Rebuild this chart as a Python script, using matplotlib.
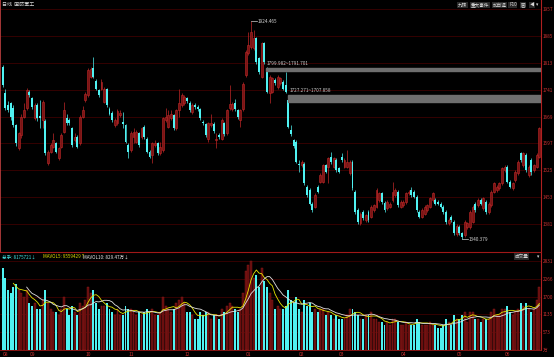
import numpy as np
import pandas as pd
import matplotlib.pyplot as plt
from matplotlib.patches import Rectangle

plt.rcParams['font.family'] = ['Noto Sans CJK SC', 'DejaVu Sans']

# daily candles (index points)
opens = [1802, 1731, 1701, 1704, 1693, 1646, 1584, 1619, 1668, 1691,
         1734, 1718, 1664, 1700, 1670, 1660, 1657, 1544, 1575, 1588,
         1597, 1557, 1588, 1628, 1664, 1661, 1637, 1606, 1615, 1597,
         1668, 1713, 1727, 1776, 1800, 1765, 1740, 1744, 1709, 1742,
         1688, 1679, 1646, 1651, 1673, 1653, 1646, 1593, 1579, 1615,
         1602, 1624, 1615, 1642, 1610, 1575, 1566, 1593, 1597, 1570,
         1579, 1660, 1642, 1664, 1673, 1637, 1686, 1700, 1704, 1718,
         1706, 1682, 1700, 1695, 1688, 1655, 1648, 1610, 1646, 1649,
         1606, 1619, 1610, 1651, 1624, 1691, 1689, 1704, 1686, 1660,
         1688, 1780, 1838, 1856, 1852, 1878, 1825, 1776, 1865, 1798,
         1731, 1735, 1767, 1749, 1758, 1762, 1753, 1713, 1633, 1606,
         1601, 1543, 1539, 1543, 1481, 1472, 1436, 1427, 1481, 1494,
         1494, 1539, 1535, 1561, 1535, 1552, 1530, 1561, 1535, 1535,
         1517, 1548, 1468, 1418, 1383, 1414, 1392, 1414, 1400, 1418,
         1427, 1445, 1463, 1438, 1423, 1427, 1445, 1459, 1467, 1427,
         1432, 1441, 1463, 1472, 1468, 1454, 1414, 1401, 1409, 1418,
         1427, 1445, 1445, 1441, 1436, 1427, 1414, 1383, 1401, 1387,
         1354, 1374, 1356, 1352, 1374, 1374, 1387, 1436, 1432, 1445,
         1423, 1441, 1414, 1432, 1468, 1472, 1477, 1490, 1526, 1535,
         1494, 1477, 1499, 1517, 1570, 1539, 1566, 1512, 1552, 1526,
         1535, 1561]
closes = [1753, 1691, 1686, 1668, 1646, 1597, 1624, 1667, 1686, 1740,
          1727, 1695, 1701, 1664, 1664, 1709, 1570, 1575, 1593, 1605,
          1575, 1584, 1620, 1686, 1651, 1651, 1593, 1615, 1588, 1668,
          1686, 1729, 1793, 1797, 1776, 1744, 1727, 1762, 1744, 1700,
          1677, 1660, 1660, 1684, 1679, 1649, 1602, 1575, 1624, 1628,
          1628, 1593, 1637, 1615, 1575, 1561, 1597, 1599, 1570, 1588,
          1664, 1668, 1673, 1677, 1637, 1686, 1704, 1727, 1722, 1711,
          1686, 1700, 1695, 1689, 1664, 1651, 1619, 1651, 1652, 1631,
          1610, 1615, 1660, 1622, 1686, 1702, 1702, 1688, 1667, 1686,
          1756, 1843, 1860, 1896, 1878, 1816, 1789, 1865, 1816, 1735,
          1776, 1771, 1758, 1776, 1771, 1744, 1735, 1642, 1622, 1590,
          1548, 1539, 1548, 1490, 1459, 1436, 1418, 1459, 1468, 1512,
          1539, 1521, 1557, 1548, 1557, 1526, 1521, 1552, 1552, 1548,
          1548, 1477, 1414, 1387, 1408, 1396, 1405, 1392, 1427, 1432,
          1472, 1463, 1441, 1418, 1441, 1436, 1468, 1472, 1432, 1441,
          1441, 1463, 1468, 1459, 1454, 1418, 1401, 1418, 1427, 1432,
          1450, 1463, 1436, 1436, 1427, 1414, 1387, 1393, 1392, 1356,
          1376, 1356, 1347, 1387, 1383, 1414, 1427, 1418, 1445, 1436,
          1450, 1414, 1436, 1468, 1490, 1481, 1490, 1530, 1535, 1494,
          1481, 1490, 1521, 1548, 1552, 1570, 1526, 1535, 1521, 1539,
          1566, 1637]
highs = [1807, 1744, 1710, 1708, 1700, 1650, 1628, 1676, 1704, 1745,
         1740, 1722, 1706, 1704, 1713, 1713, 1662, 1580, 1597, 1626,
         1602, 1588, 1624, 1707, 1677, 1666, 1642, 1624, 1620, 1672,
         1697, 1734, 1798, 1802, 1829, 1769, 1744, 1769, 1749, 1746,
         1695, 1684, 1664, 1690, 1686, 1682, 1650, 1597, 1630, 1637,
         1633, 1628, 1642, 1646, 1615, 1579, 1602, 1606, 1602, 1602,
         1668, 1693, 1686, 1686, 1677, 1690, 1744, 1731, 1727, 1722,
         1710, 1704, 1706, 1700, 1693, 1660, 1652, 1655, 1675, 1655,
         1624, 1624, 1664, 1655, 1690, 1753, 1708, 1715, 1690, 1690,
         1762, 1848, 1896, 1924.465, 1900, 1883, 1829, 1869, 1869, 1802,
         1780, 1776, 1771, 1780, 1776, 1767, 1789, 1720, 1646, 1610,
         1606, 1552, 1552, 1548, 1485, 1477, 1441, 1463, 1485, 1517,
         1543, 1543, 1561, 1575, 1561, 1557, 1535, 1570, 1557, 1579,
         1552, 1552, 1472, 1423, 1412, 1418, 1409, 1418, 1432, 1436,
         1477, 1468, 1468, 1443, 1445, 1441, 1494, 1477, 1472, 1445,
         1445, 1468, 1472, 1481, 1472, 1459, 1418, 1423, 1432, 1436,
         1454, 1468, 1450, 1445, 1441, 1432, 1418, 1398, 1405, 1392,
         1380, 1378, 1360, 1392, 1387, 1418, 1432, 1441, 1450, 1450,
         1454, 1445, 1441, 1472, 1494, 1485, 1494, 1535, 1539, 1539,
         1499, 1494, 1526, 1552, 1575, 1575, 1570, 1539, 1557, 1543,
         1570, 1642]
lows = [1749, 1686, 1680, 1660, 1640, 1590, 1579, 1612, 1664, 1686,
        1722, 1690, 1660, 1657, 1637, 1637, 1566, 1539, 1570, 1584,
        1570, 1552, 1584, 1624, 1646, 1646, 1588, 1602, 1584, 1593,
        1664, 1708, 1722, 1771, 1771, 1740, 1722, 1740, 1704, 1695,
        1672, 1655, 1640, 1646, 1668, 1637, 1597, 1557, 1575, 1597,
        1597, 1588, 1610, 1610, 1570, 1557, 1544, 1588, 1566, 1566,
        1575, 1655, 1637, 1660, 1633, 1633, 1668, 1695, 1700, 1706,
        1680, 1677, 1690, 1684, 1660, 1646, 1614, 1601, 1642, 1626,
        1584, 1610, 1606, 1617, 1620, 1686, 1684, 1684, 1662, 1642,
        1684, 1776, 1833, 1851, 1847, 1811, 1784, 1771, 1811, 1731,
        1704, 1731, 1753, 1744, 1753, 1740, 1731, 1637, 1617, 1584,
        1544, 1521, 1535, 1485, 1454, 1432, 1414, 1423, 1463, 1490,
        1490, 1517, 1490, 1543, 1530, 1521, 1517, 1548, 1530, 1530,
        1512, 1472, 1409, 1382, 1378, 1391, 1387, 1387, 1396, 1414,
        1423, 1441, 1436, 1414, 1418, 1423, 1441, 1454, 1427, 1423,
        1427, 1436, 1459, 1454, 1450, 1414, 1396, 1396, 1405, 1414,
        1423, 1441, 1432, 1432, 1423, 1409, 1382, 1378, 1387, 1351,
        1349, 1351, 1340.379, 1347, 1369, 1369, 1383, 1414, 1427, 1432,
        1418, 1409, 1409, 1427, 1463, 1468, 1472, 1485, 1521, 1490,
        1477, 1472, 1494, 1512, 1548, 1535, 1521, 1508, 1512, 1521,
        1530, 1557]

# volume, 万
volumes = [2600, 2300, 1900, 1800, 2000, 2100, 1900, 1800, 1700, 1900,
           1500, 1400, 1500, 1300, 1300, 1600, 1900, 1500, 1300, 1200,
           1200, 1100, 1300, 1700, 1300, 1100, 1400, 1200, 1100, 1500,
           1400, 1600, 2000, 1800, 1900, 1500, 1300, 1400, 1400, 1500,
           1300, 1200, 1100, 1300, 1100, 1100, 1400, 1300, 1300, 1200,
           1100, 1200, 1100, 1200, 1300, 1200, 1300, 1100, 1100, 1200,
           1700, 1400, 1300, 1200, 1300, 1500, 1600, 1700, 1500, 1200,
           1200, 1100, 1000, 1000, 1200, 1100, 1200, 1200, 1000, 1100,
           1100, 1000, 1300, 1200, 1400, 1500, 1400, 1300, 1200, 1300,
           1800, 2500, 2700, 2831, 2300, 2400, 2000, 2600, 2200, 2000,
           1800, 1600, 1300, 1400, 1300, 1300, 1400, 1900, 1600, 1500,
           1700, 1300, 1200, 1600, 1400, 1500, 1200, 1300, 1200, 1300,
           1300, 1100, 1200, 1100, 1000, 1100, 1000, 1000, 1000, 1100,
           1300, 1300, 1200, 1100, 1000, 1000, 1100, 1100, 1200, 1000,
           1000, 900, 900, 800, 900, 800, 1000, 1000, 900, 800,
           800, 900, 800, 800, 800, 1000, 900, 800, 800, 800,
           900, 800, 800, 700, 700, 800, 1000, 900, 800, 1100,
           1000, 1000, 1100, 1200, 900, 1200, 1200, 1000, 1000, 900,
           1000, 1000, 1000, 1200, 1300, 1100, 1100, 1300, 1300, 1400,
           1200, 1100, 1200, 1300, 1500, 1400, 1500, 1300, 1200, 1300,
           1600, 2000]

month_pos = [0, 10, 31, 47, 68, 91, 111, 126, 149, 170, 188]
month_labels = ['08', '09', '10', '11', '12', '01', '02', '03', '04', '05', '06']
price_ticks = [1957, 1885, 1813, 1741, 1669, 1597, 1525, 1453, 1381]
vol_ticks = [2831, 2266, 1700, 1135, 573]
gaps = [(98.5, 1791.701, 1799.982, '1799.982~1791.701'),
        (107.0, 1707.858, 1727.271, '1727.271~1707.858')]

UP_FILL, UP_EDGE, DOWN = '#7a1414', '#c02828', '#4ff2f2'
GRID = '#3c0000'
AXC = '#b02020'

o = np.array(opens, float)
c = np.array(closes, float)
h = np.array(highs, float)
l = np.array(lows, float)
v = np.array(volumes, float)
x = np.arange(len(o))
up = c >= o

W, H = 554, 357
fig = plt.figure(figsize=(W / 100, H / 100), dpi=100, facecolor='black')
ax = fig.add_axes([0, (H - 252) / H, 541 / W, 252 / H])
axv = fig.add_axes([0, (H - 350) / H, 541 / W, 97 / H])

for a in (ax, axv):
    a.set_facecolor('black')
    a.set_xlim(-1, 201.6)
    for s in ('top', 'bottom', 'left'):
        a.spines[s].set_visible(False)
    a.spines['right'].set_color(AXC)
    a.spines['right'].set_linewidth(0.8)
    a.yaxis.tick_right()
    a.tick_params(axis='y', length=0, pad=1.2, labelsize=3.4, labelcolor='#c83030')

# price pane
ax.set_ylim(1306.1, 1981.1)
ax.set_yticks(price_ticks)
ax.set_xticks([])
for p in price_ticks:
    ax.axhline(p, color=GRID, lw=0.6, zorder=0)
ax.axvline(-0.9, color='#c04040', lw=1.2)

ax.vlines(x[up], l[up], h[up], color=UP_EDGE, lw=0.5, zorder=2)
ax.vlines(x[~up], l[~up], h[~up], color=DOWN, lw=0.5, zorder=2)
bot = np.minimum(o, c)
hgt = np.maximum(np.abs(c - o), 1.2)
ax.bar(x[up], hgt[up], 0.72, bot[up], color=UP_FILL, edgecolor=UP_EDGE, lw=0.4, zorder=3)
ax.bar(x[~up], hgt[~up], 0.72, bot[~up], color=DOWN, lw=0, zorder=3)

for x0, lo, hi, lab in gaps:
    ax.add_patch(Rectangle((x0, lo), 201.6 - x0, hi - lo, color='#6e6e6e', zorder=4))
    ax.text(x0 + 0.5, hi + 4, lab, color='#c8c8c8', fontsize=3.4, va='bottom', ha='left')

ih = int(np.argmax(h))
ax.plot([ih, ih + 2.2], [h[ih], h[ih]], color='#d0d0d0', lw=0.5)
ax.text(ih + 2.4, h[ih], str(highs[ih]), color='#d0d0d0', fontsize=3.4, va='center')
il = int(np.argmin(l))
ax.plot([il, il + 2.2], [l[il], l[il]], color='#d0d0d0', lw=0.5)
ax.text(il + 2.4, l[il], str(lows[il]), color='#d0d0d0', fontsize=3.4, va='center')

# volume pane
axv.set_ylim(0, 3085)
axv.set_yticks(vol_ticks + [0])
axv.set_yticklabels([str(t) for t in vol_ticks] + ['万'])
for t in vol_ticks:
    axv.axhline(t, color=GRID, lw=0.6, zorder=0)
axv.bar(x[up], v[up], 0.72, color='#5e0c0c', edgecolor='#9a1c1c', lw=0.3, zorder=2)
axv.bar(x[~up], v[~up], 0.72, color=DOWN, lw=0, zorder=2)
vs = pd.Series(v)
axv.plot(x, vs.rolling(5).mean(), color='#e6e600', lw=0.6, zorder=3)
axv.plot(x, vs.rolling(10).mean(), color='#e0e0e0', lw=0.6, zorder=3)
axv.set_xticks(month_pos)
axv.set_xticklabels(month_labels)
axv.tick_params(axis='x', length=0, pad=1.2, labelsize=3.6, labelcolor='#c83030')
for t in axv.get_xticklabels():
    t.set_ha('left')
axv.spines['bottom'].set_visible(True)
axv.spines['bottom'].set_color('#a01818')
axv.spines['bottom'].set_linestyle((0, (2, 1)))
axv.spines['bottom'].set_linewidth(0.6)

# separator between panes
fig.add_artist(plt.Line2D([0, 541 / W], [1 - 252 / H] * 2, color='#a01818', lw=0.8))


def ftext(px, py, s, **kw):
    fig.text(px / W, 1 - py / H, s, va='center', ha='left', **kw)


ftext(2, 4.5, '日线  国防军工', color='#d8d8d8', fontsize=3.6)
ftext(2, 257, '总手: 8175721↓', color='#40e0e0', fontsize=3.3)
ftext(43, 257, 'MAVOL5: 9559429↑', color='#e0e000', fontsize=3.3)
ftext(83, 257, 'MAVOL10: 829.47万↓', color='#e8e8e8', fontsize=3.3)

box = dict(facecolor='#2a2a2a', edgecolor='none', pad=0.4)
for px, s in [(458, '九转'), (471, '重大事件'), (493, '加自选'), (509, 'F10'), (521, '圆'), (530, '◀')]:
    ftext(px, 5, s, color='#d8d8d8', fontsize=3.3, bbox=box)
ftext(536, 5, '▾', color='#d8d8d8', fontsize=3.3)
ftext(515, 256.5, '成交量', color='#d8d8d8', fontsize=3.3, bbox=box)
ftext(537, 256.5, '▾', color='#d8d8d8', fontsize=3.3)

fig.savefig('out.png', dpi=100, facecolor='black')
